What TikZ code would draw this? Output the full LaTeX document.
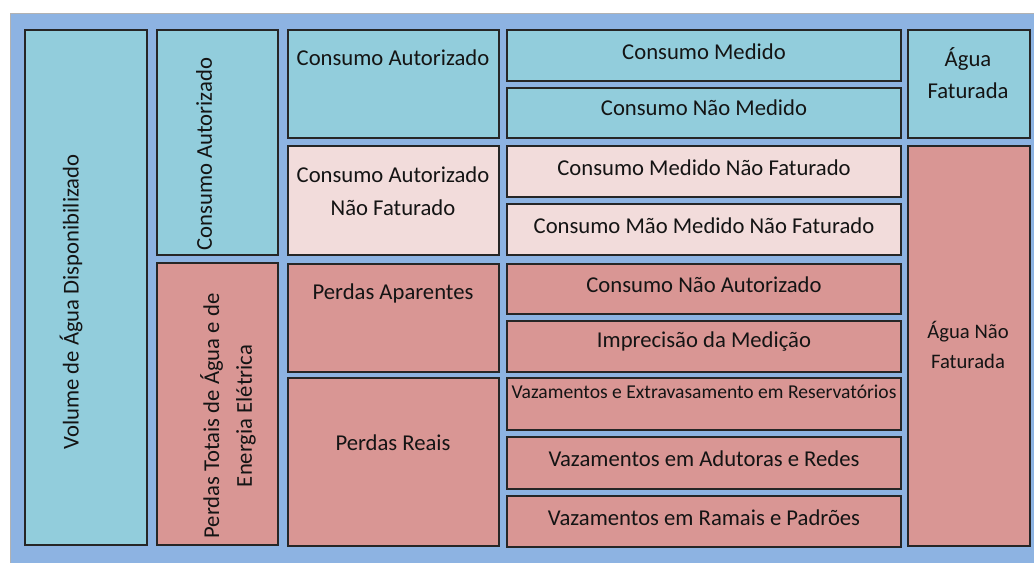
\documentclass[tikz,border=0pt]{standalone}
\usepackage{fontspec}
\setmainfont{Carlito}
\usepackage{tikz}
\usetikzlibrary{fit}
\definecolor{fundo}{HTML}{8DB3E2}
\definecolor{azulagua}{HTML}{92CDDC}
\definecolor{rosaclaro}{HTML}{F2DCDB}
\definecolor{vermelhoperda}{HTML}{D99694}
\tikzstyle{celula} = [draw=black!85, thick, rectangle, inner sep=0pt]
\tikzstyle{agua} = [celula, fill=azulagua]
\tikzstyle{naofat} = [celula, fill=rosaclaro]
\tikzstyle{perda} = [celula, fill=vermelhoperda]
\tikzstyle{rotulo} = [font=\fontsize{17}{24.5}\selectfont, text=black!92,
                      align=center, inner sep=0pt]
\tikzstyle{rotulomenor} = [rotulo, font=\fontsize{14.7}{22}\selectfont]

\begin{document}
\begin{tikzpicture}[x=0.75pt, y=-0.75pt]
  \useasboundingbox (0,0) rectangle (1034,563);
  \fill[white] (0,0) rectangle (1034,563);
  \draw[gray!60, fill=fundo] (10,13) rectangle (1040,570);
  % primeira e segunda colunas
  \node[agua, fit={(25,30) (147,545)}] (volume) {};
  \node[agua, fit={(157,30) (278,255)}] (autorizado) {};
  \node[perda, fit={(157,263) (278,545)}] (perdastotais) {};
  \node[rotulo, rotate=90] at (71,302) {Volume de Água Disponibilizado};
  \node[rotulo, rotate=90] at (204,154) {Consumo Autorizado};
  \node[rotulo, rotate=90] at (228,416) {Perdas Totais de Água e de\\Energia Elétrica};
  % terceira coluna
  \node[agua, fit={(288,30) (499,138)}] (autfat) {};
  \node[naofat, fit={(288,146) (499,255)}] (autnaofat) {};
  \node[perda, fit={(288,264) (499,372)}] (aparentes) {};
  \node[perda, fit={(288,378) (499,546)}] (reais) {};
  \node[rotulo] at (393,58) {Consumo Autorizado};
  \node[rotulo] at (393,191) {Consumo Autorizado\\Não Faturado};
  \node[rotulo] at (393,293) {Perdas Aparentes};
  \node[rotulo] at (393,443) {Perdas Reais};
  % quarta coluna
  \node[agua, fit={(507,30) (901,81)}] (medido) {};
  \node[agua, fit={(507,88) (901,138)}] (naomedido) {};
  \node[naofat, fit={(507,146) (901,197)}] (medidonaofat) {};
  \node[naofat, fit={(507,204) (901,255)}] (naomedidonaofat) {};
  \node[perda, fit={(507,264) (901,314)}] (naoautorizado) {};
  \node[perda, fit={(507,321) (901,372)}] (imprecisao) {};
  \node[perda, fit={(507,378) (901,430)}] (reservatorios) {};
  \node[perda, fit={(507,437) (901,489)}] (adutoras) {};
  \node[perda, fit={(507,496) (901,547)}] (ramais) {};
  \node[rotulo] at (704,52) {Consumo Medido};
  \node[rotulo] at (704,108) {Consumo Não Medido};
  \node[rotulo] at (704,168) {Consumo Medido Não Faturado};
  \node[rotulo] at (704,226) {Consumo Mão Medido Não Faturado};
  \node[rotulo] at (704,285) {Consumo Não Autorizado};
  \node[rotulo] at (704,342) {Imprecisão da Medição};
  \node[rotulomenor] at (704,392) {Vazamentos e Extravasamento em Reservatórios};
  \node[rotulo] at (704,459) {Vazamentos em Adutoras e Redes};
  \node[rotulo] at (704,518) {Vazamentos em Ramais e Padrões};
  % quinta coluna
  \node[agua, fit={(908,30) (1030,138)}] (faturada) {};
  \node[perda, fit={(908,146) (1030,546)}] (naofaturada) {};
  \node[rotulo] at (968,73) {Água\\Faturada};
  \node[rotulo, font=\fontsize{15.5}{22.5}\selectfont] at (968,345) {Água Não\\Faturada};
\end{tikzpicture}
\end{document}
